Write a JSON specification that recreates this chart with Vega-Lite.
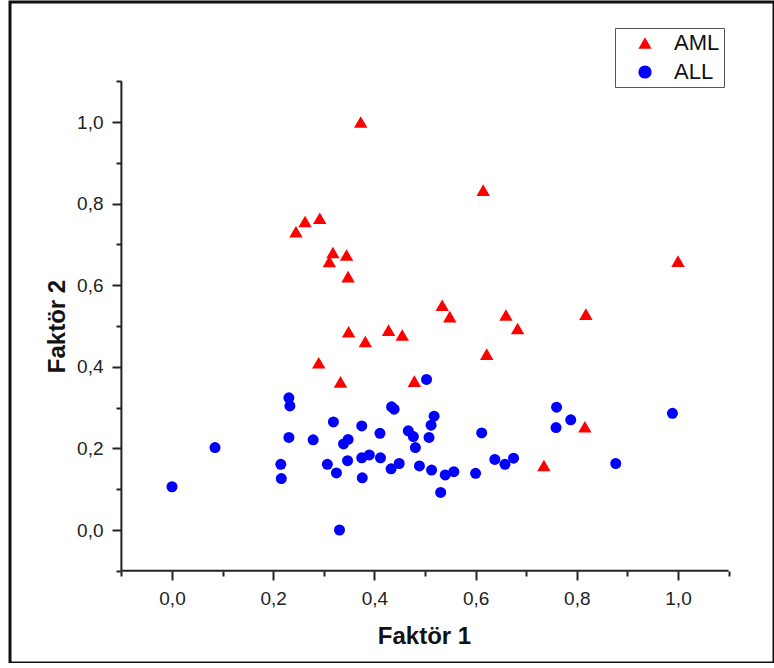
{
  "$schema": "https://vega.github.io/schema/vega-lite/v6.json",
  "width": 764,
  "height": 661,
  "autosize": {"type": "none"},
  "padding": {"left": 10, "top": 2, "right": 0, "bottom": 0},
  "background": "white",
  "config": {
    "view": {"stroke": "#111", "strokeWidth": 3},
    "axis": {"grid": false, "domain": false}
  },
  "layer": [
    {
      "data": {
        "values": [
          {"group": "AML", "f1": 0.373, "f2": 1.0},
          {"group": "AML", "f1": 0.615, "f2": 0.833},
          {"group": "AML", "f1": 0.245, "f2": 0.731},
          {"group": "AML", "f1": 0.263, "f2": 0.756},
          {"group": "AML", "f1": 0.292, "f2": 0.764},
          {"group": "AML", "f1": 0.318, "f2": 0.68},
          {"group": "AML", "f1": 0.311, "f2": 0.658},
          {"group": "AML", "f1": 0.345, "f2": 0.674},
          {"group": "AML", "f1": 0.348, "f2": 0.621},
          {"group": "AML", "f1": 1.0, "f2": 0.659},
          {"group": "AML", "f1": 0.534, "f2": 0.551},
          {"group": "AML", "f1": 0.549, "f2": 0.523},
          {"group": "AML", "f1": 0.66, "f2": 0.527},
          {"group": "AML", "f1": 0.683, "f2": 0.494},
          {"group": "AML", "f1": 0.818, "f2": 0.529},
          {"group": "AML", "f1": 0.428, "f2": 0.49},
          {"group": "AML", "f1": 0.455, "f2": 0.478},
          {"group": "AML", "f1": 0.349, "f2": 0.486},
          {"group": "AML", "f1": 0.382, "f2": 0.462},
          {"group": "AML", "f1": 0.622, "f2": 0.431},
          {"group": "AML", "f1": 0.29, "f2": 0.41},
          {"group": "AML", "f1": 0.333, "f2": 0.363},
          {"group": "AML", "f1": 0.479, "f2": 0.365},
          {"group": "AML", "f1": 0.816, "f2": 0.253},
          {"group": "AML", "f1": 0.735, "f2": 0.158},
          {"group": "ALL", "f1": 0.0, "f2": 0.106},
          {"group": "ALL", "f1": 0.085, "f2": 0.202},
          {"group": "ALL", "f1": 0.231, "f2": 0.324},
          {"group": "ALL", "f1": 0.233, "f2": 0.304},
          {"group": "ALL", "f1": 0.231, "f2": 0.227},
          {"group": "ALL", "f1": 0.215, "f2": 0.161},
          {"group": "ALL", "f1": 0.216, "f2": 0.126},
          {"group": "ALL", "f1": 0.279, "f2": 0.221},
          {"group": "ALL", "f1": 0.319, "f2": 0.265},
          {"group": "ALL", "f1": 0.307, "f2": 0.161},
          {"group": "ALL", "f1": 0.325, "f2": 0.14},
          {"group": "ALL", "f1": 0.331, "f2": 0.0},
          {"group": "ALL", "f1": 0.339, "f2": 0.211},
          {"group": "ALL", "f1": 0.348, "f2": 0.222},
          {"group": "ALL", "f1": 0.347, "f2": 0.17},
          {"group": "ALL", "f1": 0.375, "f2": 0.255},
          {"group": "ALL", "f1": 0.375, "f2": 0.177},
          {"group": "ALL", "f1": 0.39, "f2": 0.184},
          {"group": "ALL", "f1": 0.376, "f2": 0.128},
          {"group": "ALL", "f1": 0.411, "f2": 0.237},
          {"group": "ALL", "f1": 0.412, "f2": 0.177},
          {"group": "ALL", "f1": 0.434, "f2": 0.302},
          {"group": "ALL", "f1": 0.439, "f2": 0.296},
          {"group": "ALL", "f1": 0.433, "f2": 0.15},
          {"group": "ALL", "f1": 0.449, "f2": 0.163},
          {"group": "ALL", "f1": 0.467, "f2": 0.243},
          {"group": "ALL", "f1": 0.477, "f2": 0.229},
          {"group": "ALL", "f1": 0.481, "f2": 0.202},
          {"group": "ALL", "f1": 0.489, "f2": 0.157},
          {"group": "ALL", "f1": 0.503, "f2": 0.369},
          {"group": "ALL", "f1": 0.518, "f2": 0.279},
          {"group": "ALL", "f1": 0.512, "f2": 0.257},
          {"group": "ALL", "f1": 0.508, "f2": 0.227},
          {"group": "ALL", "f1": 0.612, "f2": 0.238},
          {"group": "ALL", "f1": 0.513, "f2": 0.147},
          {"group": "ALL", "f1": 0.54, "f2": 0.135},
          {"group": "ALL", "f1": 0.557, "f2": 0.143},
          {"group": "ALL", "f1": 0.531, "f2": 0.092},
          {"group": "ALL", "f1": 0.6, "f2": 0.139},
          {"group": "ALL", "f1": 0.638, "f2": 0.173},
          {"group": "ALL", "f1": 0.658, "f2": 0.161},
          {"group": "ALL", "f1": 0.675, "f2": 0.176},
          {"group": "ALL", "f1": 0.76, "f2": 0.301},
          {"group": "ALL", "f1": 0.788, "f2": 0.27},
          {"group": "ALL", "f1": 0.759, "f2": 0.251},
          {"group": "ALL", "f1": 0.877, "f2": 0.163},
          {"group": "ALL", "f1": 0.989, "f2": 0.286}
        ]
      },
      "mark": {"type": "point", "filled": true, "opacity": 1, "strokeWidth": 0},
      "encoding": {
        "x": {
          "field": "f1",
          "type": "quantitative",
          "scale": {"domain": [-0.320158, 1.189723], "nice": false, "zero": false},
          "axis": {
            "orient": "bottom",
            "offset": -92,
            "values": [-0.1, 0, 0.1, 0.2, 0.3, 0.4, 0.5, 0.6, 0.7, 0.8, 0.9, 1.0, 1.1],
            "tickSize": {"condition": {"test": "round(datum.value*10) % 2 == 0", "value": 9}, "value": 5},
            "tickWidth": 2,
            "tickColor": "#222",
            "labelExpr": "round(datum.value*10) % 2 == 0 ? replace(format(datum.value, '.1f'), '.', ',') : ''",
            "labelFont": "Liberation Sans",
            "labelFontSize": 19,
            "labelColor": "#222",
            "labelPadding": 9,
            "labelFlush": false,
            "labelOverlap": false,
            "title": "Faktör 1",
            "titleFont": "Liberation Sans",
            "titleFontSize": 24,
            "titleFontWeight": "bold",
            "titleColor": "#111",
            "titleX": 414,
            "titleY": 72,
            "titleBaseline": "alphabetic",
            "titleAlign": "center"
          }
        },
        "y": {
          "field": "f2",
          "type": "quantitative",
          "scale": {"domain": [-0.32598, 1.294118], "nice": false, "zero": false},
          "axis": {
            "orient": "left",
            "offset": -111,
            "values": [-0.1, 0, 0.1, 0.2, 0.3, 0.4, 0.5, 0.6, 0.7, 0.8, 0.9, 1.0, 1.1],
            "tickSize": {"condition": {"test": "round(datum.value*10) % 2 == 0", "value": 9}, "value": 5},
            "tickWidth": 2,
            "tickColor": "#222",
            "labelExpr": "round(datum.value*10) % 2 == 0 ? replace(format(datum.value, '.1f'), '.', ',') : ''",
            "labelFont": "Liberation Sans",
            "labelFontSize": 19,
            "labelColor": "#222",
            "labelPadding": 9,
            "labelFlush": false,
            "labelOverlap": false,
            "title": "Faktör 2",
            "titleFont": "Liberation Sans",
            "titleFontSize": 24,
            "titleFontWeight": "bold",
            "titleColor": "#111",
            "titleX": -57,
            "titleY": 324,
            "titleAngle": -90,
            "titleBaseline": "alphabetic",
            "titleAlign": "center"
          }
        },
        "color": {
          "field": "group",
          "type": "nominal",
          "scale": {"domain": ["AML", "ALL"], "range": ["#ff0000", "#0000ff"]},
          "legend": {
            "title": null,
            "orient": "none",
            "legendX": 605,
            "legendY": 26,
            "padding": 4,
            "strokeColor": "#555",
            "fillColor": "white",
            "symbolSize": 175,
            "symbolStrokeWidth": 0,
            "symbolOffset": 15,
            "labelOffset": 18,
            "rowPadding": 7,
            "labelFont": "Liberation Sans",
            "labelFontSize": 22,
            "labelColor": "#111"
          }
        },
        "shape": {
          "field": "group",
          "type": "nominal",
          "scale": {"domain": ["AML", "ALL"], "range": ["triangle-up", "circle"]},
          "legend": {
            "title": null,
            "orient": "none",
            "legendX": 605,
            "legendY": 26,
            "padding": 4,
            "strokeColor": "#555",
            "fillColor": "white",
            "symbolSize": 175,
            "symbolStrokeWidth": 0,
            "symbolOffset": 15,
            "labelOffset": 18,
            "rowPadding": 7,
            "labelFont": "Liberation Sans",
            "labelFontSize": 22,
            "labelColor": "#111"
          }
        },
        "size": {"condition": {"test": "datum.group === 'AML'", "value": 180}, "value": 121}
      }
    },
    {
      "data": {"values": [{}]},
      "mark": {"type": "rule", "color": "#222", "strokeWidth": 2},
      "encoding": {
        "x": {"datum": -0.1},
        "x2": {"datum": 1.1},
        "y": {"datum": -0.1}
      }
    },
    {
      "data": {"values": [{}]},
      "mark": {"type": "rule", "color": "#222", "strokeWidth": 2},
      "encoding": {
        "x": {"datum": -0.1},
        "y": {"datum": -0.1},
        "y2": {"datum": 1.1}
      }
    }
  ]
}
